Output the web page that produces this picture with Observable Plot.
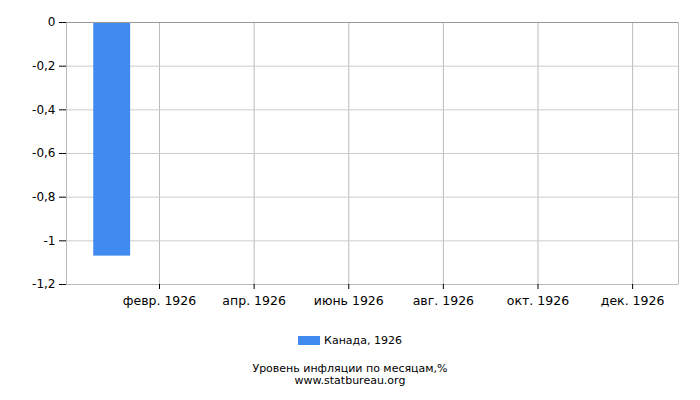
<!DOCTYPE html>
<html>
<head>
<meta charset="utf-8">
<script src="https://cdn.jsdelivr.net/npm/d3@7"></script>
<script src="https://cdn.jsdelivr.net/npm/@observablehq/plot@0.6"></script>
<style>
  body { margin: 0; background: #fff; font-family: "DejaVu Sans", sans-serif; }
  #wrap { position: relative; width: 700px; height: 400px; }
  #legend { position: absolute; top: 334px; left: 0; width: 700px; text-align: center; font-size: 11px; color: #000; }
  #legend .sw { display: inline-block; width: 22px; height: 9px; background: #418bf0; vertical-align: -1px; margin-right: 4px; }
  #caption { position: absolute; top: 363px; left: 0; width: 700px; text-align: center; font-size: 11px; line-height: 12px; color: #000; }
  #caption div { height: 12px; }
</style>
</head>
<body>
<div id="wrap">
  <div id="chart"></div>
  <div id="legend"><span class="sw"></span>Канада, 1926</div>
  <div id="caption"><div>Уровень инфляции по месяцам,%</div><div>www.statbureau.org</div></div>
</div>
<script>
const months = [1];                 // January 1926 (month index)
const values = [-1.07];
const xTicks = [2, 4, 6, 8, 10, 12];
const xTickLabels = ["февр. 1926", "апр. 1926", "июнь 1926", "авг. 1926", "окт. 1926", "дек. 1926"];
const yTicks = [0, -0.2, -0.4, -0.6, -0.8, -1, -1.2];
const monthDomain = [0.034, 12.97];

const data = months.map((m, i) => ({m, v: values[i]}));
const fmtY = d => d === 0 ? "0" : String(d).replace(".", ",");

const chart = Plot.plot({
  width: 700,
  height: 320,
  marginLeft: 66,
  marginRight: 22,
  marginTop: 22,
  marginBottom: 36,
  style: {fontFamily: "DejaVu Sans", fontSize: "12px", color: "#000", background: "#fff"},
  x: {type: "linear", domain: monthDomain, label: null},
  y: {domain: [-1.2, 0], label: null},
  marks: [
    Plot.gridX(xTicks, {stroke: "#bbb", strokeOpacity: 1}),
    Plot.gridY(yTicks, {stroke: "#ccc", strokeOpacity: 1}),
    Plot.ruleX(monthDomain, {stroke: "#bbb"}),
    Plot.ruleY([-1.2], {stroke: "#bbb"}),
    Plot.rect(data, {x1: d => d.m - 0.39, x2: d => d.m + 0.39, y1: 0, y2: "v", fill: "#418bf0"}),
    Plot.ruleY([0], {stroke: "#999"}),
    Plot.axisY(yTicks, {tickFormat: fmtY, tickSize: 7, tickPadding: 4, stroke: "#000", fill: "#000", fontSize: 12, label: null}),
    Plot.axisX(xTicks, {tickFormat: (d) => xTickLabels[xTicks.indexOf(d)], tickSize: 5, tickPadding: 7, stroke: "#000", fill: "#000", fontSize: 12.5, label: null})
  ]
});
document.getElementById("chart").appendChild(chart);
</script>
</body>
</html>
